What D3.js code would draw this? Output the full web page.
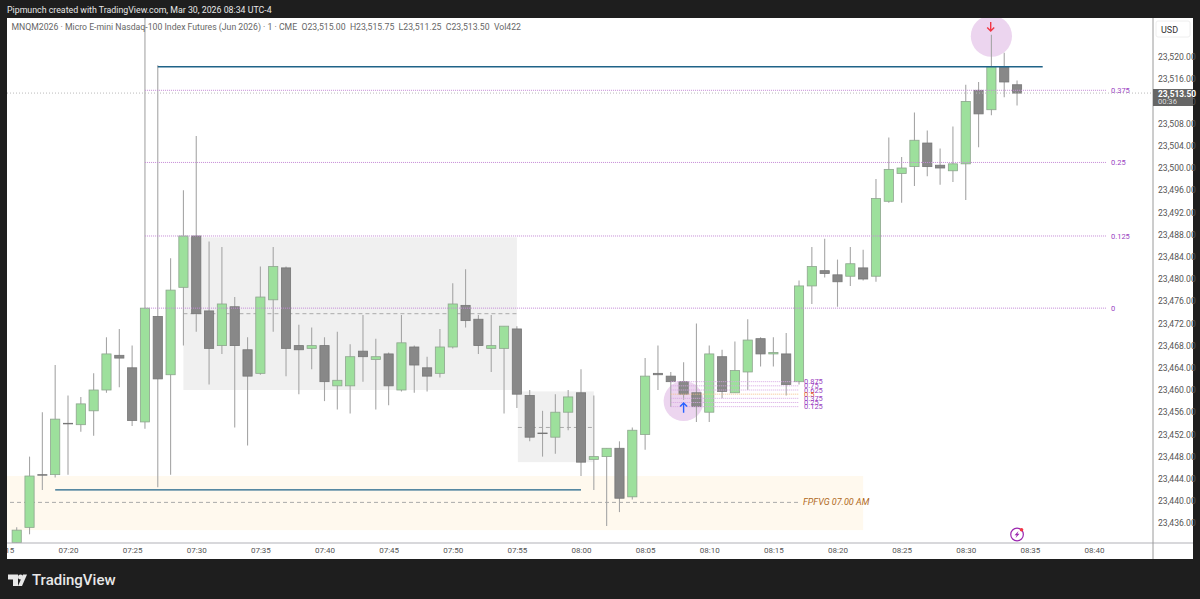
<!DOCTYPE html>
<html><head><meta charset="utf-8">
<script src="https://cdn.jsdelivr.net/npm/d3@7"></script>
<style>html,body{margin:0;padding:0;background:#1e1e1e;overflow:hidden}svg{display:block}text{font-family:Roboto,"Noto Sans",sans-serif}</style>
</head><body><svg id="c" width="1200" height="599"></svg>
<script>
const barTimes=["07:16","07:17","07:18","07:19","07:20","07:21","07:22","07:23","07:24","07:25","07:26","07:27","07:28","07:29","07:30","07:31","07:32","07:33","07:34","07:35","07:36","07:37","07:38","07:39","07:40","07:41","07:42","07:43","07:44","07:45","07:46","07:47","07:48","07:49","07:50","07:51","07:52","07:53","07:54","07:55","07:56","07:57","07:58","07:59","08:00","08:01","08:02","08:03","08:04","08:05","08:06","08:07","08:08","08:09","08:10","08:11","08:12","08:13","08:14","08:15","08:16","08:17","08:18","08:19","08:20","08:21","08:22","08:23","08:24","08:25","08:26","08:27","08:28","08:29","08:30","08:31","08:32","08:33","08:34"];
const opens=[23432.5,23435.25,23444.75,23444.75,23454,23453.75,23456.25,23460,23466.25,23464,23454.25,23473.25,23462.75,23478.5,23487.75,23474.25,23468,23475,23467.25,23463,23476.25,23482,23468,23467.5,23468,23460.75,23460.75,23467,23465.5,23466.5,23460,23467.75,23464,23463,23467.75,23475.25,23472.75,23467.5,23467.5,23471,23459,23452.25,23451.5,23456,23459.5,23447.5,23448,23449.5,23440.75,23452,23463,23462.5,23461.5,23459.5,23456,23466,23459.5,23463.25,23469.25,23466.5,23466.5,23461.5,23478.75,23481.5,23480.75,23480.5,23482,23480.5,23494,23499,23500.25,23504.5,23500.5,23499.5,23500.75,23514,23510.5,23518.25,23515];
const highs=[23435.25,23448,23456,23464.5,23459,23458.75,23463,23469.5,23471,23468,23528,23518.5,23483.75,23496,23505.75,23486.75,23485.75,23476.75,23469.5,23482.25,23485.75,23482.25,23471.75,23471.25,23469.5,23470.5,23468.25,23473.5,23469.25,23466.75,23473.5,23468,23466,23471,23479.25,23481.75,23473.5,23473.5,23471.5,23471.5,23460,23456.25,23459.25,23460,23463.75,23459,23449.5,23450.75,23453.25,23465.75,23468,23463.25,23465,23472,23468,23467.25,23468.75,23472.75,23469.5,23469.5,23470.25,23479.75,23485.75,23487.25,23483.5,23485.75,23485.25,23498,23505.5,23502,23510,23506.75,23503.5,23507.5,23515,23515.5,23524,23520.75,23515.75];
const lows=[23432,23434,23442,23444.25,23444.75,23452.5,23451.75,23459.5,23460.5,23453.5,23453,23442.5,23444.75,23468,23470.5,23461,23466.5,23453.25,23450,23462.75,23470.5,23462.5,23459.25,23463.75,23458,23456.5,23455.75,23461.5,23456.5,23457.25,23459.75,23459.5,23459.75,23462.25,23467.5,23471.25,23466.5,23463.25,23455.75,23456.75,23450.75,23448,23448.5,23452.75,23444.5,23442,23435.5,23438,23440.25,23449.25,23460,23457,23458.25,23454.25,23454.25,23458.5,23459.5,23460,23464.25,23464.25,23459,23461,23475.5,23480.25,23475,23478.75,23479.75,23479.5,23493.75,23493.75,23496.75,23498.5,23497,23497.5,23494.25,23503.75,23509.5,23512.75,23511.25];
const closes=[23434.75,23444.5,23444.75,23454.75,23454,23457.5,23460,23466.5,23465.75,23454.5,23474.75,23462,23478,23487.75,23473.75,23467.5,23475.5,23468,23462.5,23476.75,23482.25,23467.5,23467.25,23468,23461.5,23461.75,23466,23466,23466,23460.75,23468.5,23464.5,23462.5,23467.75,23475.5,23472.5,23468,23468,23471.5,23459.25,23451.5,23452.25,23456,23458.75,23447,23448,23449.5,23440.5,23452.75,23462.5,23462.75,23461.5,23459.25,23457,23466.5,23459.75,23463.5,23469,23466.5,23466.75,23461,23478.75,23482.25,23481,23479.5,23482.75,23480,23494.5,23499.75,23500,23505,23500.25,23500,23500.75,23512,23509.75,23518.25,23515.5,23513.5];
const priceTicks=[23436,23440,23444,23448,23452,23456,23460,23464,23468,23472,23476,23480,23484,23488,23492,23496,23500,23504,23508,23512,23516,23520];
const timeTicks=["07:15","07:20","07:25","07:30","07:35","07:40","07:45","07:50","07:55","08:00","08:05","08:10","08:15","08:20","08:25","08:30","08:35","08:40"];
const fibLabels=["0.375","0.25","0.125","0"];
const fibPrices=[23514,23501,23487.75,23474.75];
const smallFibLabels=["0.875","0.75","0.625","0.5","0.375","0.25","0.125"];
const smallFibPrices=[23461.5,23460.75,23460,23459.25,23458.5,23457.75,23457];
const headerText="Pipmunch created with TradingView.com, Mar 30, 2026 08:34 UTC-4";
const legendText="MNQM2026 · Micro E-mini Nasdaq-100 Index Futures (Jun 2026) · 1 · CME  O23,515.00  H23,515.75  L23,511.25  C23,513.50  Vol422";

const mins=s=>{const[a,b]=s.split(":").map(Number);return a*60+b};
const x=d3.scaleLinear().domain([mins("07:20"),mins("08:40")]).range([68,1094]);
const y=d3.scaleLinear().domain([23520,23436]).range([57,523.2]);
const X=s=>x(mins(s));
const svg=d3.select("#c");
const L=7,R=1153,T=18,B=543,RR=1193,BB=559;
const INK="#555";

svg.append("rect").attr("width",1200).attr("height",599).attr("fill","#1e1e1e");
svg.append("rect").attr("x",L).attr("y",T).attr("width",RR-L).attr("height",BB-T).attr("fill","#fff");
svg.append("defs").append("clipPath").attr("id","plot").append("rect").attr("x",L).attr("y",T).attr("width",R-L).attr("height",B-T);
svg.select("defs").append("clipPath").attr("id","tclip").append("rect").attr("x",L).attr("y",B).attr("width",R-L).attr("height",BB-B);

const g=svg.append("g").attr("clip-path","url(#plot)");
// zones
const rect=(x0,x1,p0,p1,f)=>g.append("rect").attr("x",x0).attr("width",x1-x0).attr("y",y(p0)).attr("height",y(p1)-y(p0)).attr("fill",f);
rect(L,X("08:22"),23444.5,23434.75,"#fff9ee");
rect(X("07:29"),X("07:55"),23487.5,23460,"#f0f0f0");
rect(X("07:55")+1,X("08:01"),23459.75,23447,"#f0f0f0");
const hl=(x0,x1,p,c,w,d)=>g.append("line").attr("x1",x0).attr("x2",x1).attr("y1",y(p)).attr("y2",y(p)).attr("stroke",c).attr("stroke-width",w).attr("stroke-dasharray",d||null);
g.append("circle").attr("cx",X("08:08")).attr("cy",y(23458)).attr("r",20).attr("fill","#ecd5ef");
g.append("circle").attr("cx",X("08:32")).attr("cy",y(23523.75)).attr("r",20.6).attr("fill","#ecd5ef");
hl(X("07:29"),X("07:55"),23473.75,"#aaa",1,"4 3");
hl(X("07:55")+1,X("08:01"),23453.25,"#aaa",1,"4 3");
hl(L+3,X("08:17"),23439.75,"#aaa",1,"4 3");
// candles
const idx=d3.range(barTimes.length);
const up=i=>closes[i]>opens[i];
g.append("g").selectAll("line").data(idx).join("line")
 .attr("x1",i=>X(barTimes[i])).attr("x2",i=>X(barTimes[i]))
 .attr("y1",i=>y(highs[i])).attr("y2",i=>y(lows[i]))
 .attr("stroke","#a6a6a6").attr("stroke-width",1.1);
g.append("g").selectAll("rect").data(idx).join("rect")
 .attr("x",i=>X(barTimes[i])-4.6).attr("width",9.2)
 .attr("y",i=>y(Math.max(opens[i],closes[i])))
 .attr("height",i=>Math.max(y(Math.min(opens[i],closes[i]))-y(Math.max(opens[i],closes[i])),0.6))
 .attr("fill",i=>up(i)?"#9de09c":"#888888")
 .attr("stroke",i=>up(i)?"#8ea58e":"#767676").attr("stroke-width",0.8);
// overlay lines
fibPrices.forEach(p=>hl(X("07:26"),X("08:41"),p,"#c48ad6",1,"1 1"));
smallFibPrices.forEach((p,i)=>hl(X("08:07"),X("08:17"),p,i==3?"#f4c28c":"#d6a6e2",1,"1 1"));
hl(L,R,23513.5,"#bbb",1,"1 2");
hl(X("07:27"),X("08:36"),23518.25,"#1f6388",1.4);
hl(X("07:19"),X("08:00"),23442,"#1f6388",1.4);
// labels in plot
fibLabels.forEach((t,i)=>g.append("text").attr("x",1111).attr("y",y(fibPrices[i])+3).attr("font-size",7.5).attr("fill","#9a3fbf").text(t));
smallFibLabels.forEach((t,i)=>g.append("text").attr("x",804).attr("y",y(smallFibPrices[i])+2.5).attr("font-size",7.5).attr("fill",i==3?"#e0582a":"#9a3fbf").text(t));
g.append("text").attr("x",803).attr("y",y(23439.75)+3).attr("font-size",9).attr("font-style","italic").attr("fill","#b0691c").text("FPFVG 07.00 AM");
// arrows
const arrow=(cx,y0,y1,c)=>{const dir=y1<y0?1:-1;
 g.append("path").attr("d",`M${cx},${y0}V${y1}M${cx-3.5},${y1+dir*3.5}L${cx},${y1}L${cx+3.5},${y1+dir*3.5}`).attr("fill","none").attr("stroke",c).attr("stroke-width",1.4);};
arrow(X("08:08"),412.7,403,"#2962ff");
arrow(X("08:32")-.7,22,31,"#f23645");
// bolt
const bx=X("08:34"),by=534.5;
g.append("circle").attr("cx",bx).attr("cy",by).attr("r",6.3).attr("fill","#fff").attr("stroke","#9c27b0").attr("stroke-width",1.2);
g.append("path").attr("d",`M${bx+1.5},${by-3.5}L${bx-2.5},${by+.7}H${bx-.3}L${bx-1.5},${by+3.5}L${bx+2.5},${by-.7}H${bx+.3}Z`).attr("fill","#9c27b0");
g.append("circle").attr("cx",bx+4.5).attr("cy",by-4.8).attr("r",1.8).attr("fill","#f23645");
// axes
const yAxis=d3.axisRight(y).tickValues(priceTicks).tickSize(0).tickPadding(5).tickFormat(d=>d3.format(",.2f")(d));
const ya=svg.append("g").attr("transform",`translate(${R},0)`).call(yAxis);
ya.select(".domain").remove();ya.selectAll("text").attr("font-size",8.6).attr("fill",INK).attr("font-family","Roboto");
const xAxis=d3.axisBottom(x).tickValues(timeTicks.map(mins)).tickSize(0).tickPadding(4).tickFormat(d=>timeTicks[timeTicks.map(mins).indexOf(d)]);
const xa=svg.append("g").attr("clip-path","url(#tclip)").append("g").attr("transform",`translate(0,${B})`).call(xAxis);
xa.select(".domain").remove();xa.selectAll("text").attr("font-size",8).attr("fill",INK).attr("font-family","Roboto");
svg.append("line").attr("x1",L).attr("x2",RR).attr("y1",B).attr("y2",B).attr("stroke","#b2b2b8").attr("stroke-width",1.2);
svg.append("line").attr("x1",R).attr("x2",R).attr("y1",T).attr("y2",BB).attr("stroke","#9a9a9a").attr("stroke-width",1);
// USD
svg.append("rect").attr("x",1156).attr("y",21).attr("width",34).attr("height",16).attr("rx",2).attr("fill","#fff").attr("stroke","#eee");
svg.append("text").attr("x",1161).attr("y",32.5).attr("font-size",9).attr("fill","#333").text("USD");
// last price label
svg.append("rect").attr("x",R).attr("y",89).attr("width",RR-R).attr("height",17).attr("fill","#666");
svg.append("text").attr("x",1158).attr("y",96.5).attr("font-size",8.4).attr("font-weight",700).attr("fill","#fff").text(d3.format(",.2f")(closes[closes.length-1]));
svg.append("text").attr("x",1158).attr("y",104).attr("font-size",7.6).attr("fill","#ddd").text("00:36");
// header
svg.append("text").attr("x",7).attr("y",12.5).attr("font-size",8.8).attr("fill","#e8e8e8").text(headerText);
svg.append("text").attr("x",11.5).attr("y",30).attr("font-size",8.7).attr("fill","#666").attr("xml:space","preserve").text(legendText);
// logo
const lg=svg.append("g").attr("fill","#e8e8e8");
lg.append("path").attr("d","M8,574.5H18V586H13V579.5H8Z");
lg.append("circle").attr("cx",20.5).attr("cy",577).attr("r",2.5);
lg.append("path").attr("d","M18,586L23,574.5H27L22,586Z");
svg.append("text").attr("x",32).attr("y",585).attr("font-size",15).attr("font-weight",500).attr("fill","#e8e8e8").text("TradingView");
</script></body></html>
